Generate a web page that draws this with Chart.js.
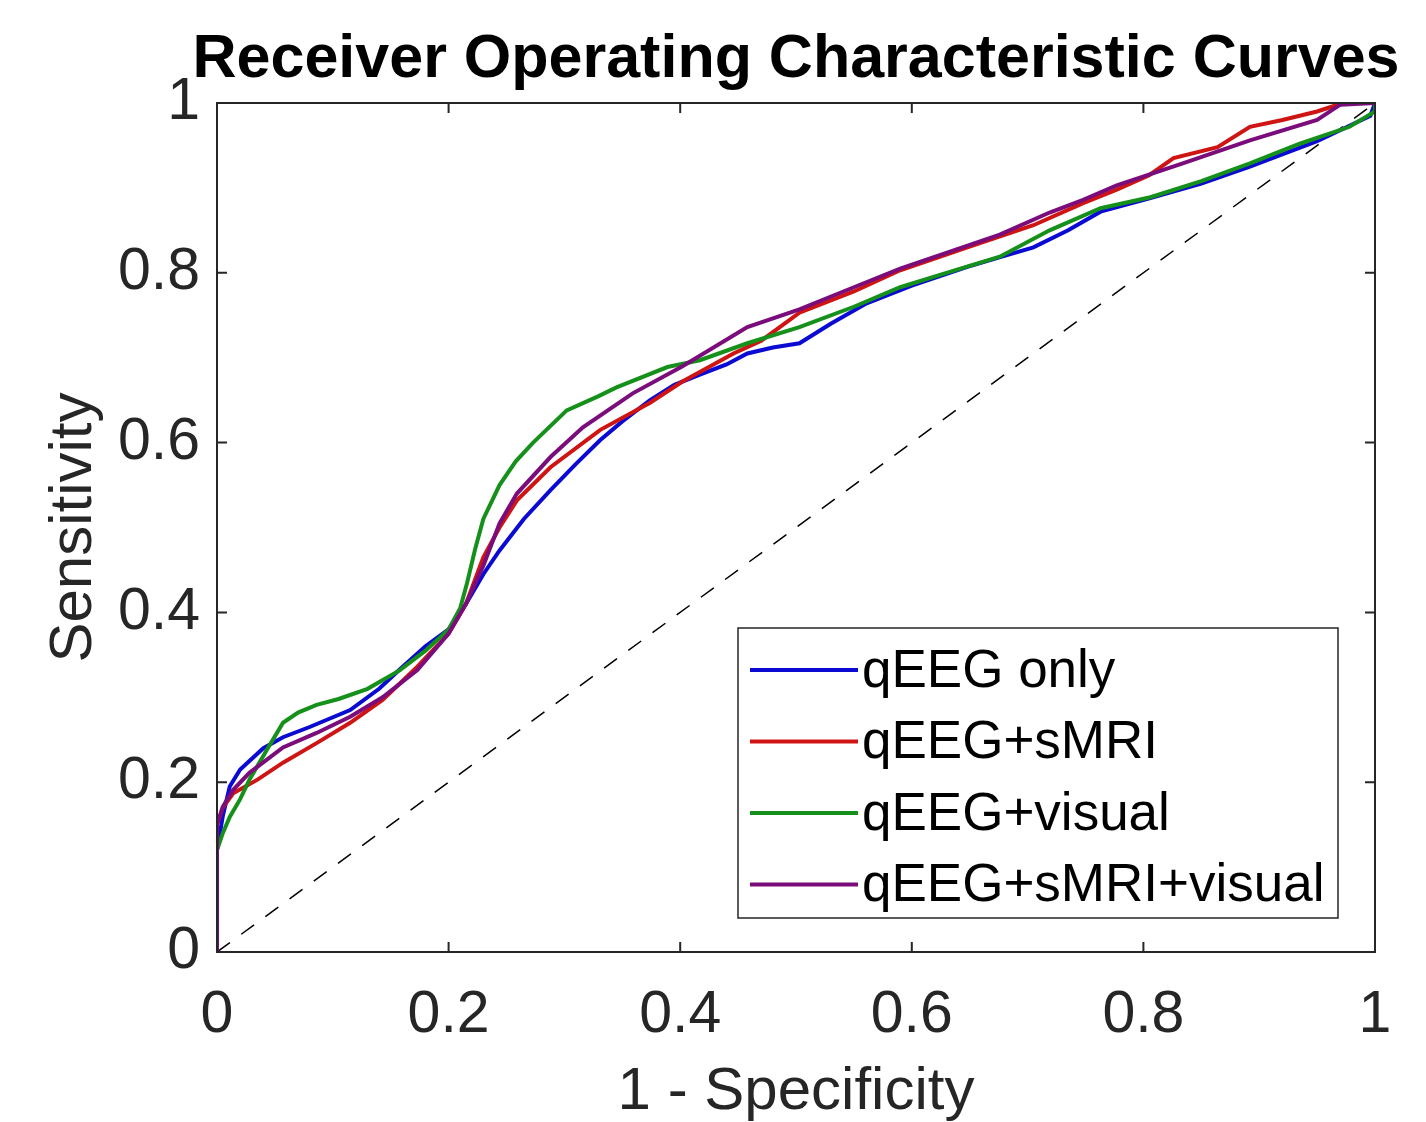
<!DOCTYPE html>
<html>
<head>
<meta charset="utf-8">
<script src="https://cdn.jsdelivr.net/npm/chart.js@4.4.1/dist/chart.umd.min.js"></script>
<style>
  html, body { margin: 0; padding: 0; background: #fff; }
  #wrap { width: 1426px; height: 1122px; }
</style>
</head>
<body>
<div id="wrap"><canvas id="rocChart" width="1426" height="1122"></canvas></div>
<script>
// ROC curves: false positive rate (1 - specificity) vs sensitivity
const chartTitle = 'Receiver Operating Characteristic Curves';
const seriesLabels = ['qEEG only', 'qEEG+sMRI', 'qEEG+visual', 'qEEG+sMRI+visual'];
const seriesColors = ['#0a0ad2', '#cf1414', '#15901a', '#7b0c7b'];

const fprQeeg = [0, 0, 0.005, 0.011, 0.02, 0.028, 0.04, 0.057, 0.08, 0.115, 0.14, 0.158, 0.18, 0.2, 0.215, 0.23, 0.244, 0.265, 0.288, 0.31, 0.331, 0.35, 0.374, 0.395, 0.417, 0.44, 0.458, 0.48, 0.503, 0.53, 0.561, 0.6, 0.648, 0.68, 0.705, 0.735, 0.763, 0.806, 0.85, 0.892, 0.95, 0.996, 1];
const tprQeeg = [0, 0.12, 0.16, 0.195, 0.215, 0.225, 0.24, 0.253, 0.265, 0.285, 0.31, 0.333, 0.36, 0.38, 0.41, 0.445, 0.473, 0.51, 0.544, 0.575, 0.603, 0.625, 0.65, 0.668, 0.68, 0.692, 0.705, 0.712, 0.717, 0.74, 0.764, 0.785, 0.807, 0.82, 0.83, 0.85, 0.872, 0.888, 0.905, 0.925, 0.955, 0.985, 1];

const fprSmri = [0, 0, 0.005, 0.014, 0.035, 0.057, 0.086, 0.115, 0.143, 0.173, 0.2, 0.215, 0.23, 0.244, 0.259, 0.288, 0.331, 0.374, 0.402, 0.446, 0.47, 0.503, 0.55, 0.59, 0.648, 0.705, 0.748, 0.777, 0.805, 0.826, 0.864, 0.892, 0.92, 0.95, 0.972, 1];
const tprSmri = [0, 0.15, 0.17, 0.187, 0.203, 0.223, 0.246, 0.27, 0.297, 0.336, 0.375, 0.41, 0.465, 0.5, 0.532, 0.571, 0.615, 0.647, 0.672, 0.705, 0.72, 0.753, 0.778, 0.803, 0.83, 0.856, 0.882, 0.898, 0.915, 0.935, 0.948, 0.972, 0.98, 0.99, 1, 1];

const fprVisual = [0, 0, 0.005, 0.011, 0.02, 0.028, 0.043, 0.057, 0.07, 0.086, 0.105, 0.13, 0.158, 0.18, 0.2, 0.21, 0.216, 0.223, 0.23, 0.244, 0.258, 0.273, 0.302, 0.33, 0.345, 0.389, 0.417, 0.458, 0.503, 0.55, 0.59, 0.63, 0.676, 0.719, 0.763, 0.806, 0.85, 0.892, 0.935, 0.978, 1, 1];
const tprVisual = [0, 0.12, 0.14, 0.159, 0.18, 0.203, 0.238, 0.27, 0.282, 0.291, 0.298, 0.31, 0.332, 0.355, 0.38, 0.405, 0.435, 0.475, 0.51, 0.55, 0.578, 0.6, 0.638, 0.655, 0.665, 0.689, 0.697, 0.717, 0.736, 0.76, 0.783, 0.8, 0.819, 0.85, 0.876, 0.889, 0.908, 0.929, 0.952, 0.972, 0.99, 1];

const fprAll = [0, 0, 0.005, 0.014, 0.028, 0.057, 0.086, 0.115, 0.143, 0.173, 0.2, 0.215, 0.23, 0.244, 0.259, 0.288, 0.316, 0.359, 0.402, 0.458, 0.503, 0.55, 0.59, 0.676, 0.719, 0.748, 0.777, 0.834, 0.892, 0.95, 0.97, 1];
const tprAll = [0, 0.15, 0.171, 0.191, 0.211, 0.241, 0.258, 0.277, 0.3, 0.332, 0.375, 0.41, 0.455, 0.505, 0.54, 0.583, 0.618, 0.658, 0.69, 0.736, 0.757, 0.783, 0.805, 0.845, 0.871, 0.886, 0.903, 0.929, 0.956, 0.98, 0.998, 1];

const chanceX = [0, 1];
const chanceY = [0, 1];

const tickValues = [0, 0.2, 0.4, 0.6, 0.8, 1];

function toPoints(xs, ys) {
    return xs.map((x, i) => ({ x: x, y: ys[i] }));
}

const curves = [
    toPoints(fprQeeg, tprQeeg),
    toPoints(fprSmri, tprSmri),
    toPoints(fprVisual, tprVisual),
    toPoints(fprAll, tprAll)
];

const TEXT = '#262626';
const FONT = "'Liberation Sans', Arial, sans-serif";

// MATLAB style box with inward ticks on all four sides, title over the axes, legend inside
const matlabAxes = {
    id: 'matlabAxes',
    afterDatasetsDraw(chart) {
        const ctx = chart.ctx;
        const a = chart.chartArea;
        const xs = chart.scales.x, ys = chart.scales.y;
        const tl = 10;
        ctx.save();
        ctx.strokeStyle = TEXT;
        ctx.lineWidth = 2;
        ctx.beginPath();
        tickValues.forEach(v => {
            const px = xs.getPixelForValue(v);
            ctx.moveTo(px, a.bottom); ctx.lineTo(px, a.bottom - tl);
            ctx.moveTo(px, a.top); ctx.lineTo(px, a.top + tl);
            const py = ys.getPixelForValue(v);
            ctx.moveTo(a.left, py); ctx.lineTo(a.left + tl, py);
            ctx.moveTo(a.right, py); ctx.lineTo(a.right - tl, py);
        });
        ctx.stroke();
        ctx.strokeRect(a.left, a.top, a.right - a.left, a.bottom - a.top);

        // title, centred over the axes box
        ctx.fillStyle = '#000';
        ctx.font = 'bold 61px ' + FONT;
        ctx.textAlign = 'center';
        ctx.textBaseline = 'alphabetic';
        ctx.fillText(chartTitle, (a.left + a.right) / 2, a.top - 26);

        // legend
        const w = 600, h = 290;
        const lx = a.right - 37 - w, ly = a.bottom - 34 - h;
        ctx.fillStyle = '#fff';
        ctx.fillRect(lx, ly, w, h);
        ctx.strokeStyle = '#262626';
        ctx.lineWidth = 1.5;
        ctx.strokeRect(lx, ly, w, h);
        ctx.font = '53px ' + FONT;
        ctx.textBaseline = 'middle';
        ctx.textAlign = 'left';
        seriesLabels.forEach((lab, i) => {
            const cy = ly + 42 + i * 71.5;
            ctx.strokeStyle = seriesColors[i];
            ctx.lineWidth = 4;
            ctx.beginPath();
            ctx.moveTo(lx + 12, cy);
            ctx.lineTo(lx + 120, cy);
            ctx.stroke();
            ctx.fillStyle = '#000';
            ctx.fillText(lab, lx + 124, cy + 2);
        });
        ctx.restore();
    }
};

const datasets = curves.map((pts, i) => ({
    label: seriesLabels[i],
    data: pts,
    borderColor: seriesColors[i],
    borderWidth: 4,
    showLine: true,
    pointRadius: 0,
    tension: 0,
    order: 4 - i
}));
datasets.push({
    label: 'chance',
    data: toPoints(chanceX, chanceY),
    borderColor: '#000',
    borderWidth: 1.5,
    borderDash: [16, 14],
    showLine: true,
    pointRadius: 0,
    order: 10
});

new Chart(document.getElementById('rocChart'), {
    type: 'scatter',
    data: { datasets: datasets },
    options: {
        responsive: false,
        animation: false,
        layout: { padding: { left: 0, right: 51, top: 103, bottom: 0 } },
        plugins: {
            legend: { display: false },
            tooltip: { enabled: false },
            title: { display: false }
        },
        scales: {
            x: {
                type: 'linear',
                min: 0, max: 1,
                afterFit: s => { s.height = 170; },
                afterBuildTicks: s => { s.ticks = tickValues.map(v => ({ value: v })); },
                grid: { display: false, drawTicks: false },
                border: { display: false },
                ticks: {
                    color: TEXT,
                    padding: 28,
                    maxRotation: 0,
                    font: { family: FONT, size: 59 },
                    callback: v => String(v)
                },
                title: {
                    display: true,
                    text: '1 - Specificity',
                    color: TEXT,
                    font: { family: FONT, size: 60, lineHeight: 1.0 },
                    padding: { top: 0, bottom: 0 }
                }
            },
            y: {
                type: 'linear',
                min: 0, max: 1,
                afterFit: s => { s.width = 217; },
                afterBuildTicks: s => { s.ticks = tickValues.map(v => ({ value: v })); },
                grid: { display: false, drawTicks: false },
                border: { display: false },
                ticks: {
                    color: TEXT,
                    padding: 17,
                    font: { family: FONT, size: 59 },
                    callback: v => String(v)
                },
                title: {
                    display: true,
                    text: 'Sensitivity',
                    color: TEXT,
                    font: { family: FONT, size: 60, lineHeight: 1.2 },
                    padding: { top: 38, bottom: 0 }
                }
            }
        }
    },
    plugins: [matlabAxes]
});
</script>
</body>
</html>
